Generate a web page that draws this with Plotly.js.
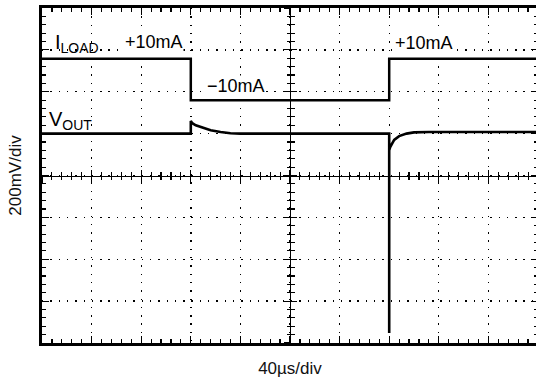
<!DOCTYPE html>
<html>
<head>
<meta charset="utf-8">
<script src="https://cdn.plot.ly/plotly-3.0.1.min.js"></script>
<style>
  html, body { margin: 0; padding: 0; overflow: hidden; background: #fff; }
  #chart { width: 540px; height: 381px; }
</style>
</head>
<body>
<div id="chart"></div>
<script>
// Time axis in divisions (40 µs/div), vertical in divisions (200 mV/div)
const iloadTime = [0, 3, 3, 7, 7, 10];
const iloadLevel = [2.79, 2.79, 1.80, 1.80, 2.79, 2.79];

const voutTime = [0, 3.0, 3.0, 3.03, 3.1, 3.2, 3.4, 3.6, 3.8, 4.0, 7.0, 7.0, 7.0, 7.02, 7.05, 7.1, 7.2, 7.35, 7.5, 7.8, 10];
const voutLevel = [1.0, 1.0, 1.30, 1.25, 1.20, 1.16, 1.08, 1.04, 1.01, 1.0, 1.0, -3.76, 0.60, 0.68, 0.76, 0.85, 0.94, 1.0, 1.03, 1.04, 1.04];

const labelTexts = ['I<sub>LOAD</sub>', '+10mA', '\u221210mA', '+10mA', 'V<sub>OUT</sub>'];
const labelX = [0.24, 2.26, 3.91, 7.70, 0.12];
const labelY = [3.15, 3.18, 2.14, 3.17, 1.31];
const labelAnchor = ['left', 'center', 'center', 'center', 'left'];
const labelSize = [20, 18, 18, 18, 20];
const labelBg = ['rgba(0,0,0,0)', '#fff', '#fff', '#fff', 'rgba(0,0,0,0)'];

const xTitle = '40\u00b5s/div';
const yTitle = '200mV/div';

const FONT = 'Liberation Sans, Arial, Helvetica, sans-serif';

const traces = [
  { x: iloadTime, y: iloadLevel, mode: 'lines', line: { color: '#000', width: 2.5 }, hoverinfo: 'skip', showlegend: false },
  { x: voutTime, y: voutLevel, mode: 'lines', line: { color: '#000', width: 2.6 }, hoverinfo: 'skip', showlegend: false },
  { x: [], y: [], xaxis: 'x2', yaxis: 'y2', mode: 'lines', hoverinfo: 'skip', showlegend: false },
  { x: [], y: [], xaxis: 'x3', yaxis: 'y3', mode: 'lines', hoverinfo: 'skip', showlegend: false }
];

const borderAxis = {
  showgrid: true, gridcolor: '#000', gridwidth: 1.4, griddash: '1.4px,6.9px',
  showline: true, linecolor: '#000', linewidth: 2.6, mirror: 'ticks',
  ticks: 'inside', ticklen: 7, tickwidth: 1.2, tickcolor: '#000',
  showticklabels: false, zeroline: false, fixedrange: true,
  minor: { ticks: 'inside', ticklen: 4, tickwidth: 1.2, tickcolor: '#000', showgrid: false }
};

function centerAxis(dir, over, rng, dt) {
  return {
    overlaying: over, anchor: 'free', position: 0.5, range: rng, dtick: dt, tick0: 0,
    showline: true, linecolor: '#000', linewidth: 1.4,
    ticks: dir, ticklen: 6, tickwidth: 1.1, tickcolor: '#000',
    showticklabels: false, showgrid: false, zeroline: false, fixedrange: true,
    minor: { dtick: dt / 5, ticks: dir, ticklen: 3.5, tickwidth: 1.1, tickcolor: '#000', showgrid: false }
  };
}

const layout = {
  width: 540, height: 381,
  margin: { l: 42, r: 2, t: 8, b: 38 },
  paper_bgcolor: '#fff', plot_bgcolor: '#fff',
  font: { family: FONT, color: '#000', size: 18 },
  xaxis: Object.assign({}, borderAxis, {
    range: [0, 10], dtick: 1, tick0: 0,
    minor: Object.assign({}, borderAxis.minor, { dtick: 0.2 }),
    title: { text: xTitle, font: { family: FONT, size: 17, color: '#111' }, standoff: 18 }
  }),
  yaxis: Object.assign({}, borderAxis, {
    range: [-4, 4], dtick: 1, tick0: 0,
    minor: Object.assign({}, borderAxis.minor, { dtick: 0.2 }),
    title: { text: yTitle, font: { family: FONT, size: 17, color: '#111' }, standoff: 14 }
  }),
  xaxis2: centerAxis('outside', 'x', [0, 10], 1),
  yaxis2: centerAxis('outside', 'y', [-4, 4], 1),
  xaxis3: centerAxis('inside', 'x', [0, 10], 1),
  yaxis3: centerAxis('inside', 'y', [-4, 4], 1),
  annotations: labelTexts.map((t, i) => ({
    text: t, x: labelX[i], y: labelY[i], xref: 'x', yref: 'y',
    xanchor: labelAnchor[i], yanchor: 'middle', showarrow: false,
    font: { family: FONT, size: labelSize[i], color: '#000' },
    bgcolor: labelBg[i], borderpad: 0
  }))
};

Plotly.newPlot('chart', traces, layout, { staticPlot: true, displayModeBar: false }).then(function (gd) {
  // drop empty placeholder title nodes of the overlay axes
  gd.querySelectorAll('text').forEach(function (el) {
    if (!el.textContent.trim()) el.remove();
  });
});
</script>
</body>
</html>
